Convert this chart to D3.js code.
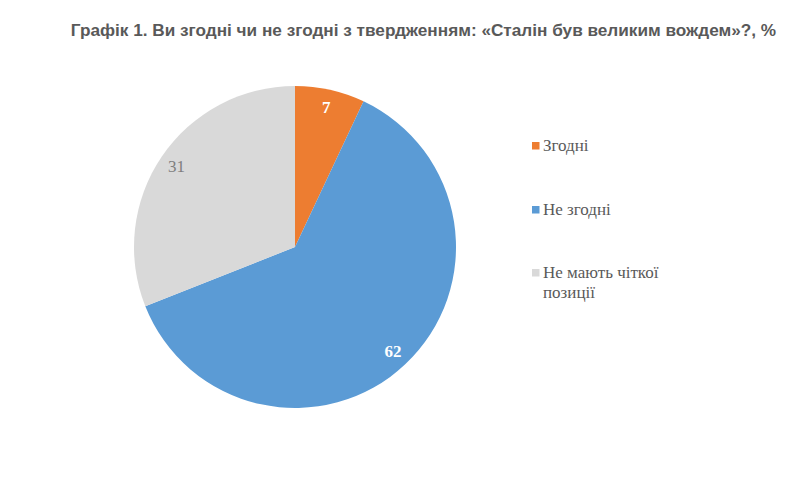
<!DOCTYPE html>
<html>
<head>
<meta charset="utf-8">
<script src="https://cdn.jsdelivr.net/npm/d3@7"></script>
<style>
  body { margin: 0; padding: 0; background: #fff; }
</style>
</head>
<body>
<div class="canvas"></div>
<script>
"use strict";

const categories = ["Згодні", "Не згодні", "Не мають чіткої позиції"];
const values = [7, 62, 31];
const colors = ["#ED7D31", "#5B9BD5", "#D9D9D9"];
const labelColors = ["#ffffff", "#ffffff", "#7f7f7f"];
const labelWeights = ["bold", "bold", "normal"];
const legendLines = [["Згодні"], ["Не згодні"], ["Не мають чіткої", "позиції"]];

const width = 800;
const height = 481;
const cx = 295;
const cy = 247;
const radius = 161;
const serif = "'Liberation Serif', 'Times New Roman', serif";

const svg = d3
  .select(".canvas")
  .append("svg")
  .attr("width", width)
  .attr("height", height)
  .style("display", "block");

// title
svg
  .append("text")
  .attr("x", 423.5)
  .attr("y", 36)
  .attr("text-anchor", "middle")
  .attr("fill", "#595959")
  .style("font-family", "'Liberation Sans', Arial, sans-serif")
  .style("font-weight", "bold")
  .style("font-size", "17.2px")
  .text("Графік 1. Ви згодні чи не згодні з твердженням: «Сталін був великим вождем»?, %");

const pie = d3.pie().sort(null).value((d) => d);
const arcs = pie(values);
const arc = d3.arc().innerRadius(0).outerRadius(radius);
const labelArc = d3.arc().innerRadius(radius * 0.89).outerRadius(radius * 0.89);

const g = svg.append("g").attr("transform", `translate(${cx},${cy})`);

g.selectAll("path.slice")
  .data(arcs)
  .enter()
  .append("path")
  .attr("class", "slice")
  .attr("d", arc)
  .attr("fill", (d, i) => colors[i]);

g.selectAll("text.lbl")
  .data(arcs)
  .enter()
  .append("text")
  .attr("class", "lbl")
  .attr("transform", (d) => `translate(${labelArc.centroid(d)})`)
  .attr("dy", "0.35em")
  .attr("text-anchor", "middle")
  .attr("fill", (d, i) => labelColors[i])
  .style("font-family", serif)
  .style("font-weight", (d, i) => labelWeights[i])
  .style("font-size", "17px")
  .text((d) => d.data);

// legend
const legendY = [151, 215, 278];
const legend = svg.append("g");
categories.forEach((c, i) => {
  legend
    .append("rect")
    .attr("x", 532)
    .attr("y", legendY[i] - 9)
    .attr("width", 7.5)
    .attr("height", 7.5)
    .attr("fill", colors[i]);
  legend
    .append("text")
    .attr("x", 543)
    .attr("y", legendY[i])
    .attr("fill", "#595959")
    .style("font-family", serif)
    .style("font-size", "17px")
    .selectAll("tspan")
    .data(legendLines[i])
    .enter()
    .append("tspan")
    .attr("x", 543)
    .attr("dy", (d, j) => (j === 0 ? 0 : 20))
    .text((d) => d);
});
</script>
</body>
</html>
